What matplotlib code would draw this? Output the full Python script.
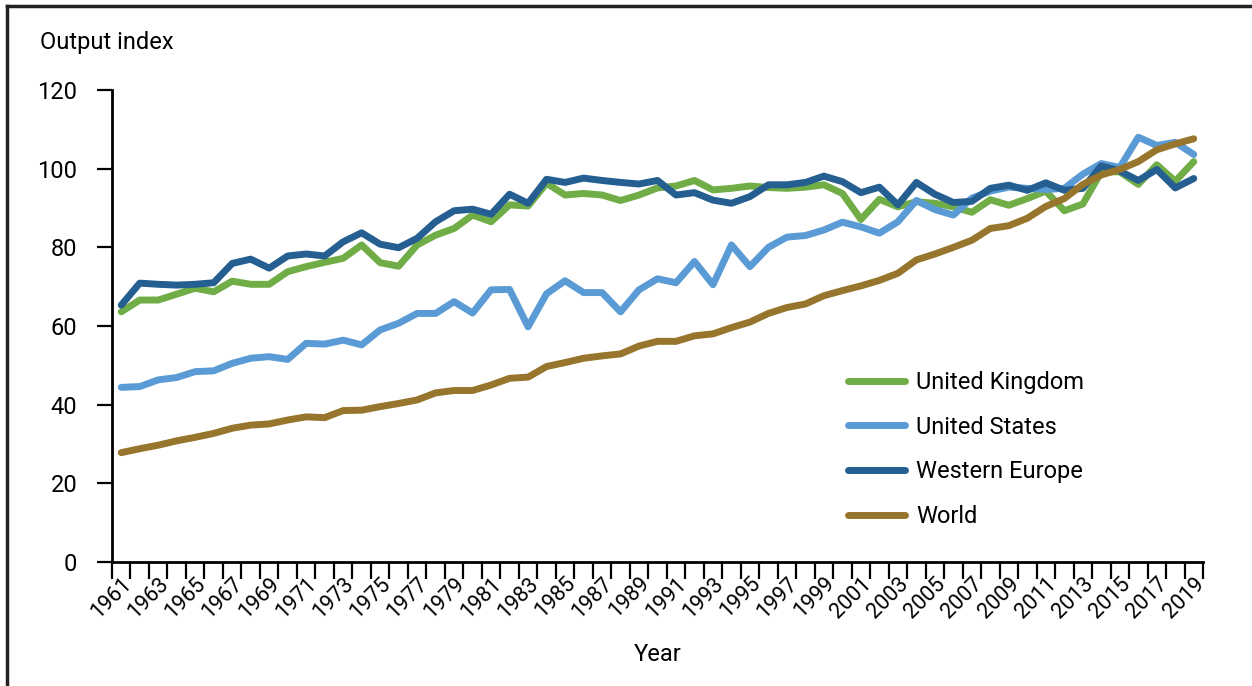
import matplotlib.pyplot as plt
from matplotlib.lines import Line2D
from matplotlib.ticker import MultipleLocator

plt.rcParams['font.family'] = ['Roboto', 'DejaVu Sans']

years = list(range(1961, 2020))

uk = [63.6, 66.6, 66.6, 68.1, 69.6, 68.7, 71.4, 70.6, 70.6, 73.8,
      75.1, 76.2, 77.2, 80.6, 76.1, 75.2, 80.6, 83.1, 84.8, 88.2,
      86.5, 90.8, 90.5, 96.3, 93.3, 93.7, 93.3, 91.9, 93.3, 95.1,
      95.6, 97.0, 94.6, 95.0, 95.6, 95.2, 95.0, 95.3, 95.9, 93.7,
      87.1, 92.2, 90.3, 91.6, 91.2, 90.3, 88.9, 92.1, 90.7, 92.4,
      94.3, 89.3, 91.0, 99.2, 99.2, 96.0, 101.0, 96.8, 101.8]

us = [44.4, 44.6, 46.3, 46.9, 48.4, 48.6, 50.5, 51.8, 52.2, 51.5,
      55.6, 55.4, 56.4, 55.2, 59.0, 60.7, 63.2, 63.2, 66.2, 63.3,
      69.2, 69.3, 59.8, 68.2, 71.5, 68.5, 68.5, 63.6, 69.2, 72.0,
      71.0, 76.4, 70.5, 80.6, 75.1, 80.0, 82.6, 83.0, 84.4, 86.4,
      85.2, 83.6, 86.5, 91.9, 89.6, 88.2, 92.5, 94.3, 95.3, 95.0,
      94.7, 95.0, 98.6, 101.3, 100.3, 108.0, 105.9, 106.7, 103.6]

we = [65.3, 70.9, 70.6, 70.4, 70.6, 71.0, 75.9, 77.0, 74.7, 77.8,
      78.3, 77.8, 81.4, 83.7, 80.8, 79.9, 82.3, 86.5, 89.3, 89.7,
      88.4, 93.5, 91.2, 97.3, 96.5, 97.6, 97.0, 96.5, 96.1, 97.0,
      93.3, 93.9, 92.0, 91.2, 92.9, 95.9, 95.9, 96.5, 98.1, 96.7,
      93.9, 95.3, 90.8, 96.5, 93.5, 91.4, 91.7, 95.0, 95.8, 94.5,
      96.4, 94.5, 95.0, 100.7, 99.4, 97.0, 99.8, 95.1, 97.5]

world = [27.8, 28.8, 29.7, 30.8, 31.7, 32.7, 34.0, 34.8, 35.1, 36.1,
         36.9, 36.7, 38.5, 38.6, 39.5, 40.3, 41.2, 43.0, 43.6, 43.6,
         45.0, 46.7, 47.0, 49.7, 50.7, 51.8, 52.4, 52.9, 54.9, 56.1,
         56.1, 57.5, 58.0, 59.6, 61.0, 63.2, 64.7, 65.6, 67.7, 69.0,
         70.2, 71.6, 73.4, 76.8, 78.3, 80.0, 81.8, 84.8, 85.5, 87.4,
         90.4, 92.4, 96.0, 98.4, 99.8, 101.8, 104.8, 106.3, 107.6]

series = [
    ("United Kingdom", uk, "#70AD47"),
    ("United States", us, "#5B9BD5"),
    ("Western Europe", we, "#255E91"),
    ("World", world, "#98752C"),
]

fig = plt.figure(figsize=(12.52, 6.86), dpi=100)
ax = fig.add_axes([112 / 1252, 1 - 562 / 686, (1203 - 112) / 1252, (562 - 90) / 686])

handles = []
for name, vals, col in series:
    ax.plot(years, vals, color=col, lw=5, solid_capstyle='round', solid_joinstyle='round')
    handles.append(Line2D([0], [0], color=col, lw=5, solid_capstyle='round', label=name))

ax.set_xlim(1960.5, 2019.5)
ax.set_ylim(0, 120)

ax.set_xticks(years[::2])
ax.set_xticklabels([str(y) for y in years[::2]], rotation=45, ha='right',
                   va='top', rotation_mode='anchor')
ax.xaxis.set_minor_locator(MultipleLocator(1, offset=0.5))
ax.tick_params(axis='x', which='major', length=0, pad=8, labelsize=15.5)
ax.tick_params(axis='x', which='minor', length=12, width=1.6, direction='out')
ax.set_yticks(range(0, 121, 20))
ax.tick_params(axis='y', length=11, width=1.6, direction='out', pad=14, labelsize=17)

for s in ['top', 'right']:
    ax.spines[s].set_visible(False)
for s in ['left', 'bottom']:
    ax.spines[s].set_linewidth(2)

ax.set_xlabel("Year", fontsize=17, labelpad=15)
fig.text(40 / 1252, 1 - 42 / 686, "Output index", fontsize=17, va='center', ha='left')

leg = ax.legend(handles=handles, loc='upper left', frameon=False,
                bbox_to_anchor=(848 / 1252, 1 - 371 / 686), bbox_transform=fig.transFigure,
                fontsize=17, handlelength=2.4, handletextpad=0.5, labelspacing=0.92,
                borderpad=0, borderaxespad=0)

# frame around the figure (left and top edges visible)
fig.add_artist(Line2D([7 / 1252, 7 / 1252], [0, 1 - 6 / 686], color='#222222', lw=2.5,
                      transform=fig.transFigure))
fig.add_artist(Line2D([7 / 1252, 1], [1 - 6 / 686, 1 - 6 / 686], color='#222222', lw=2.5,
                      transform=fig.transFigure))

fig.savefig("out.png", dpi=100)
